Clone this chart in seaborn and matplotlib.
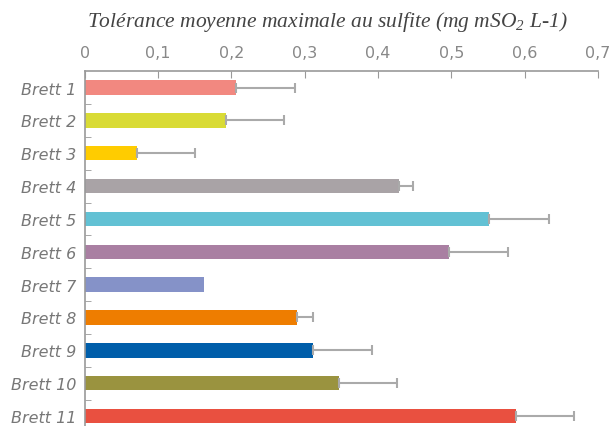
import seaborn as sns
import pandas as pd
import matplotlib.pyplot as plt
from matplotlib.ticker import FuncFormatter, FixedLocator

souches = ['Brett 1', 'Brett 2', 'Brett 3', 'Brett 4', 'Brett 5', 'Brett 6',
           'Brett 7', 'Brett 8', 'Brett 9', 'Brett 10', 'Brett 11']
tolerance = [0.207, 0.193, 0.071, 0.429, 0.552, 0.497, 0.162, 0.289, 0.312, 0.347, 0.588]
erreur = [0.080, 0.079, 0.079, 0.019, 0.081, 0.080, 0.0, 0.022, 0.080, 0.079, 0.079]
couleurs = ['#F28880', '#D9DB35', '#FFCC00', '#A9A3A6', '#62C1D4', '#A97FA2',
            '#8592C8', '#EE7D00', '#005EAA', '#9A933F', '#E95040']

df = pd.DataFrame({'souche': souches, 'tol': tolerance, 'err': erreur})

sns.set_style('white')
plt.rcParams['mathtext.fontset'] = 'custom'
plt.rcParams['mathtext.rm'] = 'Liberation Serif:italic'
plt.rcParams['mathtext.it'] = 'Liberation Serif:italic'

fig = plt.figure(figsize=(6.1, 4.27), dpi=100)
ax = fig.add_axes([0.139, -0.015, 0.841, 0.846])

sns.barplot(data=df, x='tol', y='souche', hue='souche', palette=couleurs,
            legend=False, width=0.44, ax=ax, saturation=1, linewidth=0, edgecolor='none')

pos = list(range(len(souches)))
mask = [e > 0 for e in erreur]
ax.errorbar([t for t, m in zip(tolerance, mask) if m],
            [p for p, m in zip(pos, mask) if m],
            xerr=[[0] * sum(mask), [e for e, m in zip(erreur, mask) if m]],
            fmt='none', ecolor='#AAAAAA', elinewidth=1.5, capsize=3.5, capthick=1.5)

ax.set_xlim(0, 0.7)
ax.set_ylim(len(souches) - 0.5, -0.5)
ax.xaxis.tick_top()
ax.xaxis.set_major_formatter(FuncFormatter(lambda v, p: '0' if v == 0 else f'{v:.1f}'.replace('.', ',')))
ax.set_xticks([0, 0.1, 0.2, 0.3, 0.4, 0.5, 0.6, 0.7])
ax.tick_params(axis='x', direction='in', length=5, color='#999999', labelcolor='#888888',
               labelsize=11.5, pad=8, top=True, bottom=False)
ax.tick_params(axis='y', which='major', length=0, labelcolor='#777777', labelsize=11.5, pad=6)
ax.yaxis.set_minor_locator(FixedLocator([p + 0.5 for p in pos[:-1]]))
ax.tick_params(axis='y', which='minor', direction='in', length=4, color='#999999', left=True)
for lab in ax.get_yticklabels():
    lab.set_fontstyle('italic')

for s in ['right', 'bottom']:
    ax.spines[s].set_visible(False)
for s in ['top', 'left']:
    ax.spines[s].set_color('#999999')
    ax.spines[s].set_linewidth(1.2)

ax.set_xlabel('')
ax.set_ylabel('')
fig.text(0.537, 0.948, r'Tolérance moyenne maximale au sulfite (mg mSO$_2$ L-1)',
         ha='center', va='center', fontsize=15.5, style='italic',
         family='Liberation Serif', color='#444444')

fig.savefig('out.png', dpi=100)
